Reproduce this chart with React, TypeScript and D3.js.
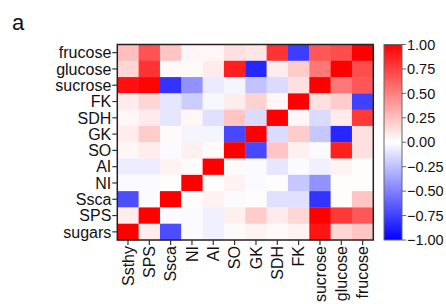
import React from "react";
import * as d3 from "d3";

const rowLabels = ["frucose", "glucose", "sucrose", "FK", "SDH", "GK", "SO", "AI", "NI", "Ssca", "SPS", "sugars"];
const colLabels = ["Ssthy", "SPS", "Ssca", "NI", "AI", "SO", "GK", "SDH", "FK", "sucrose", "glucose", "frucose"];
const colorTicks = [1, 0.75, 0.5, 0.25, 0, -0.25, -0.5, -0.75, -1];

const rowFrucose = [0.25, 0.68, 0.23, 0.03, 0.03, 0.12, 0.1, 0.8, -0.76, 0.66, 0.7, 1.0];
const rowGlucose = [0.16, 0.8, 0.02, 0.02, 0.08, 0.88, -0.85, 0.07, 0.2, 0.53, 1.0, 0.7];
const rowSucrose = [0.94, 0.99, -0.8, -0.43, -0.08, -0.04, -0.24, -0.14, 0.12, 1.0, 0.53, 0.66];
const rowFK = [0.08, 0.16, -0.1, -0.2, -0.03, 0.07, 0.18, 0.03, 1.0, 0.12, 0.2, -0.75];
const rowSDH = [0.03, 0.08, -0.1, 0.03, -0.12, 0.23, -0.14, 1.0, 0.03, -0.14, 0.08, 0.78];
const rowGK = [0.07, 0.2, 0.02, -0.04, -0.04, -0.72, 1.0, -0.14, 0.2, -0.22, -0.85, 0.12];
const rowSO = [0.03, 0.07, -0.02, 0.06, 0.02, 1.0, -0.72, 0.23, 0.06, -0.02, 0.88, 0.12];
const rowAI = [-0.07, -0.07, 0.05, 0.02, 1.0, 0.02, -0.02, -0.1, -0.02, -0.06, 0.05, 0.01];
const rowNI = [-0.02, -0.02, 0.01, 1.0, 0.01, 0.05, -0.02, 0.01, -0.22, -0.43, 0.01, 0.01];
const rowSsca = [-0.7, -0.02, 1.0, 0.01, 0.05, -0.02, 0.01, -0.12, -0.12, -0.8, 0.01, 0.23];
const rowSPS = [0.07, 1.0, -0.02, -0.02, -0.06, 0.06, 0.2, 0.08, 0.16, 1.0, 0.78, 0.66];
const rowSugars = [1.0, 0.07, -0.7, -0.02, -0.06, 0.02, 0.05, 0.02, 0.05, 0.92, 0.16, 0.23];

const matrix = [rowFrucose, rowGlucose, rowSucrose, rowFK, rowSDH, rowGK, rowSO, rowAI, rowNI, rowSsca, rowSPS, rowSugars];

const W = 446;
const H = 304;
const plot = { left: 117.3, top: 44.5, right: 373.3, bottom: 240 };
const bar = { left: 384, right: 402, top: 44.5, bottom: 240 };
const FONT = "'Liberation Sans', Arial, sans-serif";

export default function App() {
  const x = d3.scaleBand<string>().domain(colLabels).range([plot.left, plot.right]);
  const y = d3.scaleBand<string>().domain(rowLabels).range([plot.top, plot.bottom]);
  const color = d3.scaleLinear<string>().domain([-1, 0, 1]).range(["#0000ff", "#ffffff", "#ff0000"]);
  const cy = d3.scaleLinear().domain([-1, 1]).range([bar.bottom, bar.top]);

  const cells: any[] = [];
  matrix.forEach((row, i) => {
    row.forEach((v, j) => {
      cells.push(
        <rect
          key={`${i}-${j}`}
          x={x(colLabels[j])}
          y={y(rowLabels[i])}
          width={x.bandwidth() + 0.3}
          height={y.bandwidth() + 0.3}
          fill={color(v)}
        />
      );
    });
  });

  const gradStops = d3.range(0, 21).map((k) => {
    const v = 1 - k / 10;
    return <stop key={k} offset={`${(k / 20) * 100}%`} stopColor={color(v)} />;
  });

  return (
    <svg
      width={W}
      height={H}
      style={{ position: "absolute", left: 0, top: 0, background: "#fff" }}
      fontFamily={FONT}
    >
      <defs>
        <linearGradient id="cbar" x1="0" y1="0" x2="0" y2="1">
          {gradStops}
        </linearGradient>
      </defs>
      <text x={12} y={30} fontSize={22} fill="#111">a</text>
      {cells}
      <rect
        x={plot.left}
        y={plot.top}
        width={plot.right - plot.left}
        height={plot.bottom - plot.top}
        fill="none"
        stroke="#222"
        strokeWidth={1.5}
      />
      {rowLabels.map((r) => {
        const yy = (y(r) as number) + y.bandwidth() / 2;
        return (
          <g key={r}>
            <line x1={plot.left - 5} x2={plot.left} y1={yy} y2={yy} stroke="#333" strokeWidth={1.2} />
            <text x={plot.left - 6} y={yy} dy="0.36em" textAnchor="end" fontSize={16} fill="#111">
              {r}
            </text>
          </g>
        );
      })}
      {colLabels.map((c) => {
        const xx = (x(c) as number) + x.bandwidth() / 2;
        return (
          <g key={c}>
            <line x1={xx} x2={xx} y1={plot.bottom} y2={plot.bottom + 5} stroke="#333" strokeWidth={1.2} />
            <text
              transform={`translate(${xx},${plot.bottom + 6}) rotate(-90)`}
              dy="0.36em"
              textAnchor="end"
              fontSize={16}
              fill="#111"
            >
              {c}
            </text>
          </g>
        );
      })}
      <rect
        x={bar.left}
        y={bar.top}
        width={bar.right - bar.left}
        height={bar.bottom - bar.top}
        fill="url(#cbar)"
        stroke="#666"
        strokeWidth={1}
      />
      {colorTicks.map((t) => (
        <g key={t}>
          <line x1={bar.right} x2={bar.right + 4} y1={cy(t)} y2={cy(t)} stroke="#666" strokeWidth={1} />
          <text x={bar.right + 5} y={cy(t)} dy="0.36em" fontSize={14.5} fill="#111">
            {d3.format(".2f")(t)}
          </text>
        </g>
      ))}
    </svg>
  );
}
